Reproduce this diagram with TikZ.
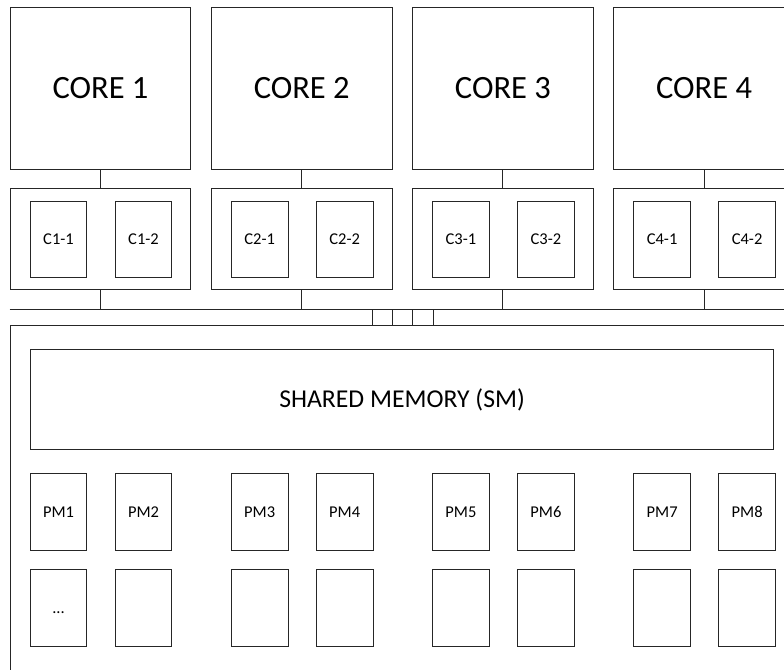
\documentclass[tikz,border=0pt]{standalone}
\usepackage{fontspec}
\setmainfont{Carlito}
\begin{document}
\begin{tikzpicture}[x=1pt,y=-1pt,
  box/.style={draw=black!85, line width=0.9pt, rectangle, inner sep=0pt, anchor=north west, fill=white},
  corebox/.style={box, minimum width=180.7pt, minimum height=161.5pt, font=\fontsize{32.5}{36}\selectfont},
  cachebox/.style={box, minimum width=180.7pt, minimum height=100.7pt},
  cbox/.style={box, minimum width=56.7pt, minimum height=76.7pt, font=\fontsize{16.5}{19}\selectfont},
  smbox/.style={box, minimum width=743.3pt, minimum height=100pt, font=\fontsize{25.7}{30}\selectfont},
  link/.style={draw=black!85, line width=0.9pt}]
\useasboundingbox (0,0) rectangle (784,669);
\clip (0,0) rectangle (784,669);

% bus and main memory block
\coordinate (busL) at (9.7,309.3);
\coordinate (busR) at (800,309.3);
\node[box, minimum width=800pt, minimum height=400pt] (mem) at (9.7,324.7) {};
\draw[link] (busL) -- (busR);
\foreach \i/\x in {1/372.7,2/392.7,3/412.7,4/433}{
  \coordinate (b\i) at (\x,309.3);
  \draw[link] (b\i) -- (b\i |- mem.north);
}

% cores and caches
\foreach \i in {1,2,3,4}{
  \pgfmathsetmacro{\xo}{9.7+201.2*(\i-1)}
  \node[corebox] (core\i) at (\xo,7) {CORE \i};
  \node[cachebox] (cache\i) at (\xo,188) {};
  \node[cbox] (c\i a) at (\xo+20,200.7) {C\i-1};
  \node[cbox] (c\i b) at (\xo+105,200.7) {C\i-2};
  \draw[link] (core\i.south) -- (cache\i.north);
  \draw[link] (cache\i.south) -- (cache\i.south |- busL);
}

% shared memory
\node[smbox] (sm) at (30,349.3) {SHARED MEMORY (SM)};

% private memories
\foreach \g/\p/\q in {1/1/2,2/3/4,3/5/6,4/7/8}{
  \pgfmathsetmacro{\xo}{9.7+201.2*(\g-1)}
  \node[cbox] (pm\p) at (\xo+20,473.3) {PM\p};
  \node[cbox] (pm\q) at (\xo+105,473.3) {PM\q};
  \node[cbox] (qm\p) at (\xo+20,569.3) {};
  \node[cbox] (qm\q) at (\xo+105,569.3) {};
}
\node[font=\fontsize{16.5}{19}\selectfont, inner sep=0pt, anchor=base] (dots) at ([yshift=-5.5pt]qm1.center) {...};
\end{tikzpicture}
\end{document}
